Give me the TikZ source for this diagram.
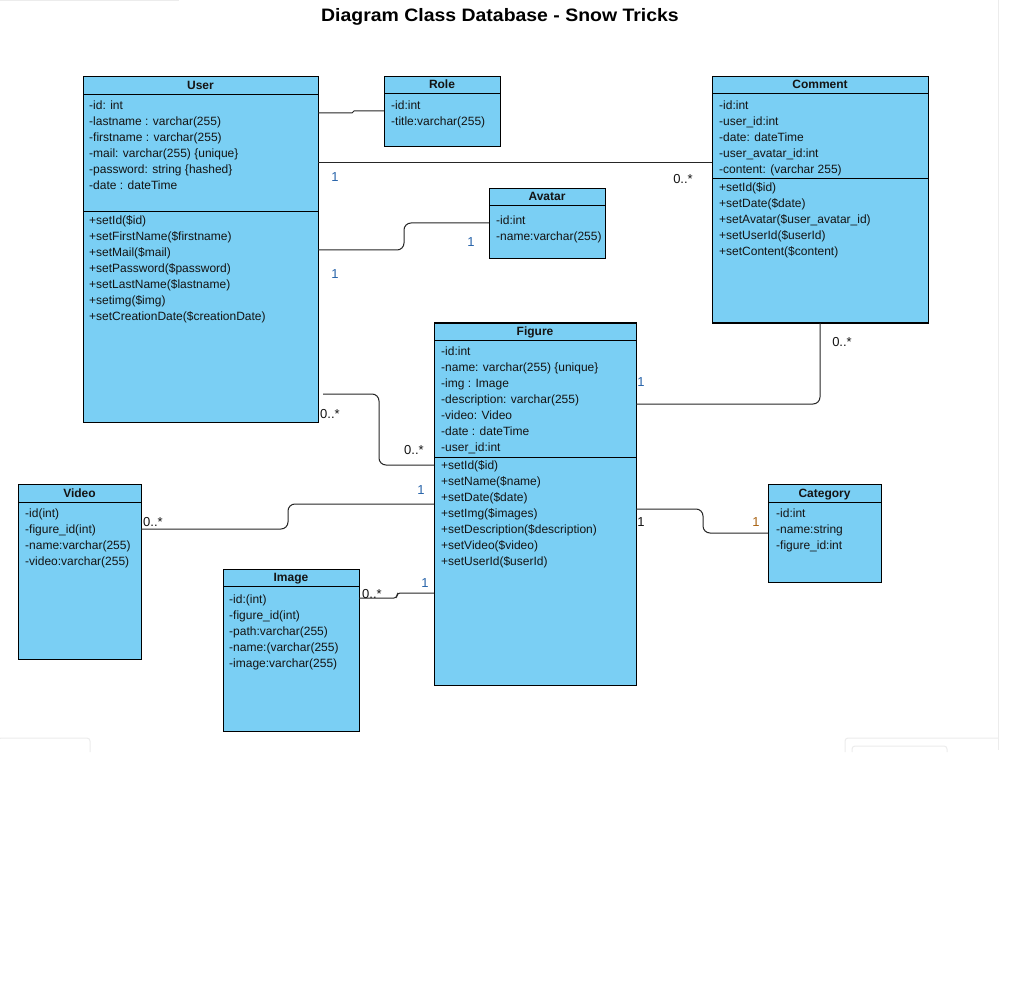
\documentclass[tikz,border=0pt]{standalone}
\usepackage{fontspec}
\setmainfont{Liberation Sans}
\usepackage{graphicx}
\definecolor{clsfill}{RGB}{122,207,244}
\definecolor{lblblue}{RGB}{40,100,170}
\definecolor{lblorange}{RGB}{170,100,20}
\definecolor{txtc}{RGB}{20,20,20}
\definecolor{faintc}{RGB}{236,236,236}
\tikzset{
  cls/.style={draw=black, fill=clsfill, line width=1pt, inner sep=0pt, outer sep=0pt, anchor=north west},
  hdr/.style={font=\fontsize{12}{14}\selectfont\bfseries, text=txtc, anchor=base, inner sep=0pt},
  txt/.style={font=\fontsize{12}{16}\selectfont, text=txtc, anchor=base west, inner sep=0pt},
  sepline/.style={line width=1pt, draw=black},
  conn/.style={line width=1pt, draw=black!85, rounded corners=7pt},
  lbl/.style={font=\fontsize{13}{15}\selectfont, anchor=base, inner sep=0pt, text=txtc},
  faintline/.style={draw=faintc, line width=1pt},
}
\newcommand\umlbox[7]{%
  \node[cls, minimum width={#4pt-#2pt}, minimum height={#5pt-#3pt}] (#1) at (#2,#3) {};
  \node[hdr] (#1h) at ({(#2+#4)/2},{#6-5}) {#7};
  \draw[sepline] (#2,#6) -- (#4,#6);
}
\newcommand\umllines[4]{%
  \foreach \uItem [count=\uIdx] in {#4} {\node[txt] (#1\uIdx) at (#2,{#3+4.3+16*(\uIdx-1)}) {\uItem};}
}
\begin{document}
\begin{tikzpicture}[x=1pt,y=-1pt]
\path[fill=white] (0,0) rectangle (1036,1000);
\useasboundingbox (0,0) rectangle (1036,1000);
% faint screenshot artifacts
\draw[faintline] (0,1) -- (179,1);
\draw[faintline] (998,0) -- (998,750);
\draw[faintline, rounded corners=3pt] (-2,752) -- (-2,738) -- (90,738) -- (90,752);
\draw[faintline, rounded corners=3pt] (845,752) -- (845,738) -- (998,738);
\draw[faintline, rounded corners=3pt] (852,752) -- (852,746) -- (947,746) -- (947,752);

\node[font=\fontsize{18}{20}\selectfont\bfseries, anchor=base, inner sep=0pt] (title) at (500,21.5) {\scalebox{1.08}[1]{Diagram Class Database - Snow Tricks}};

% User
\umlbox{user}{83}{77}{318}{422}{95}{User}
\draw[sepline] (83,212) -- (318,212);
\umllines{userA}{89}{105}{-id: int, -lastname : varchar(255), -firstname : varchar(255), -mail: varchar(255) \{unique\}, -password: string \{hashed\}, -date : dateTime}
\umllines{userM}{89}{220}{+setId(\$id), +setFirstName(\$firstname), +setMail(\$mail), +setPassword(\$password), +setLastName(\$lastname), +setimg(\$img), +setCreationDate(\$creationDate)}

% Role
\umlbox{role}{384}{77}{500}{147}{94}{Role}
\umllines{roleA}{391}{105}{-id:int, -title:varchar(255)}

% Comment
\umlbox{comment}{712}{77}{928}{323}{94}{Comment}
\draw[sepline] (712,179) -- (928,179);
\umllines{commentA}{719}{105}{-id:int, -user\_id:int, -date: dateTime, -user\_avatar\_id:int, -content: (varchar 255)}
\umllines{commentM}{719}{187}{+setId(\$id), +setDate(\$date), +setAvatar(\$user\_avatar\_id), +setUserId(\$userId), +setContent(\$content)}

% Avatar
\umlbox{avatar}{489}{189}{605}{259}{206}{Avatar}
\umllines{avatarA}{496}{220}{-id:int, -name:varchar(255)}

% Figure
\umlbox{figure}{434}{323}{636}{685}{340}{Figure}
\draw[sepline] (434,457) -- (636,457);
\umllines{figureA}{441}{351}{-id:int, -name: varchar(255) \{unique\}, -img : Image, -description: varchar(255), -video: Video, -date : dateTime, -user\_id:int}
\umllines{figureM}{441}{465}{+setId(\$id), +setName(\$name), +setDate(\$date), +setImg(\$images), +setDescription(\$description), +setVideo(\$video), +setUserId(\$userId)}

% Video
\umlbox{video}{18}{484}{141}{659}{502}{Video}
\umllines{videoA}{25}{513}{-id(int), -figure\_id(int), -name:varchar(255), -video:varchar(255)}

% Image
\umlbox{image}{223}{569}{359}{731}{586}{Image}
\umllines{imageA}{229}{599}{-id:(int), -figure\_id(int), -path:varchar(255), -name:(varchar(255), -image:varchar(255)}

% Category
\umlbox{category}{768}{484}{881}{582}{502}{Category}
\umllines{categoryA}{776}{513}{-id:int, -name:string, -figure\_id:int}

% connectors
\draw[conn, sharp corners] (user.north east |- 0,113) -- (352,113) -- (354,111) -- (role.west |- 0,111);
\draw[conn] (user.east |- 0,163) -- (comment.west |- 0,163);
\draw[conn] (user.east |- 0,250) -- (404,250) -- (404,223) -- (avatar.west |- 0,223);
\draw[conn] (comment.south) -- (comment.south |- 0,404) -- (figure.east |- 0,404);
\coordinate (ufstart) at (323,394);
\draw[conn] (ufstart) -- (379,394) -- (379,465) -- (figure.west |- 0,465);
\draw[conn] (video.east |- 0,529) -- (288,529) -- (288,504) -- (figure.west |- 0,504);
\draw[conn, rounded corners=3pt] (image.east |- 0,598) -- (397,598) -- (397,593) -- (figure.west |- 0,593);
\draw[conn] (figure.east |- 0,509) -- (703,509) -- (703,533) -- (category.west |- 0,533);

% multiplicities
\node[lbl, text=lblblue] (l1) at (335,181.6) {1};
\node[lbl] (l2) at (683,183.6) {0..*};
\node[lbl, text=lblblue] (l3) at (471,246.6) {1};
\node[lbl, text=lblblue] (l4) at (335,278.6) {1};
\node[lbl] (l5) at (842,346.6) {0..*};
\node[lbl, text=lblblue] (l6) at (641,386.6) {1};
\node[lbl] (l7) at (330,418.6) {0..*};
\node[lbl] (l8) at (414,454.6) {0..*};
\node[lbl, text=lblblue] (l9) at (421,494.6) {1};
\node[lbl] (l10) at (153,526.6) {0..*};
\node[lbl, text=lblblue] (l11) at (425,587.6) {1};
\node[lbl] (l12) at (372,598.6) {0..*};
\node[lbl] (l13) at (641,526.6) {1};
\node[lbl, text=lblorange] (l14) at (756,526.6) {1};
\end{tikzpicture}
\end{document}
